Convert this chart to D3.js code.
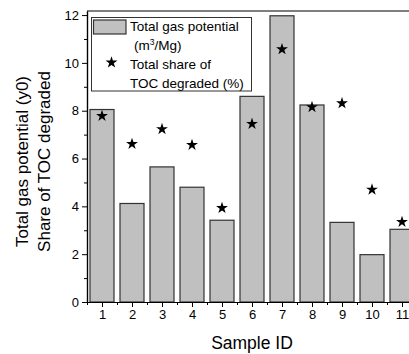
<!DOCTYPE html>
<html>
<head>
<meta charset="utf-8">
<script src="https://cdn.jsdelivr.net/npm/d3@7"></script>
<style>
  body { margin: 0; background: #fff; }
  svg { display: block; font-family: "Liberation Sans", Arial, sans-serif; }
</style>
</head>
<body>
<svg id="chart"></svg>
<script>
// sample ids on the x axis
const sampleIds = [1, 2, 3, 4, 5, 6, 7, 8, 9, 10, 11];
// total gas potential (m3/Mg), bars
const gasPotential = [8.05, 4.12, 5.65, 4.8, 3.42, 8.6, 11.97, 8.24, 3.33, 1.98, 3.04];
// total share of TOC degraded (%), stars
const tocDegraded = [7.78, 6.61, 7.23, 6.57, 3.93, 7.45, 10.57, 8.15, 8.31, 4.7, 3.35];
const yMajorTicks = [0, 2, 4, 6, 8, 10, 12];
const yMinorTicks = [1, 3, 5, 7, 9, 11];
const xMinorTicks = [0.5, 1.5, 2.5, 3.5, 4.5, 5.5, 6.5, 7.5, 8.5, 9.5, 10.5, 11.5];

const W = 409, H = 354;
const mLeft = 87, mRight = 417, mTop = 11, mBottom = 302;

const svg = d3.select("#chart")
    .attr("width", W)
    .attr("height", H);

const x = d3.scaleLinear()
    .domain([0.5, 11.5])
    .range([mLeft, mRight]);

const y = d3.scaleLinear()
    .domain([0, 12.17])
    .range([mBottom, mTop]);

const barW = (x(1) - x(0)) * 0.8;

// bars
svg.selectAll("rect.bar")
    .data(sampleIds)
    .enter()
    .append("rect")
    .attr("class", "bar")
    .attr("x", (d) => x(d) - barW / 2)
    .attr("y", (d, i) => y(gasPotential[i]))
    .attr("width", barW)
    .attr("height", (d, i) => y(0) - y(gasPotential[i]))
    .attr("fill", "#c0c0c0")
    .attr("stroke", "#333")
    .attr("stroke-width", 1.2);

// stars
const star = d3.symbol().type(d3.symbolStar).size(44);
svg.selectAll("path.star")
    .data(sampleIds)
    .enter()
    .append("path")
    .attr("class", "star")
    .attr("d", star)
    .attr("transform", (d, i) => `translate(${x(d)}, ${y(tocDegraded[i])})`)
    .attr("fill", "#000");

// frame top line
svg.append("line")
    .attr("x1", mLeft).attr("x2", mRight)
    .attr("y1", mTop).attr("y2", mTop)
    .attr("stroke", "#000").attr("stroke-width", 1.2);

// y axis
svg.append("g")
    .attr("transform", `translate(${mLeft}, 0)`)
    .call(d3.axisLeft(y).tickValues(yMajorTicks).tickSize(5).tickPadding(3).tickSizeOuter(0));
svg.append("g")
    .attr("transform", `translate(${mLeft}, 0)`)
    .call(d3.axisLeft(y).tickValues(yMinorTicks).tickSize(3).tickFormat("").tickSizeOuter(0));

// x axis
svg.append("g")
    .attr("transform", `translate(0, ${mBottom})`)
    .call(d3.axisBottom(x).tickValues(sampleIds).tickSize(5).tickPadding(3).tickSizeOuter(0));
svg.append("g")
    .attr("transform", `translate(0, ${mBottom})`)
    .call(d3.axisBottom(x).tickValues(xMinorTicks).tickSize(3).tickFormat("").tickSizeOuter(0));

svg.selectAll(".domain").attr("stroke", "#000").attr("stroke-width", 1.2);
svg.selectAll(".tick line").attr("stroke", "#000");
svg.selectAll(".tick text")
    .attr("font-size", "13px")
    .attr("font-family", "Liberation Sans, Arial, sans-serif")
    .attr("fill", "#000");

// axis titles
svg.append("text")
    .attr("transform", `translate(28, 161.5) rotate(-90)`)
    .attr("text-anchor", "middle")
    .attr("font-size", "17px")
    .text("Total gas potential (y0)");
svg.append("text")
    .attr("transform", `translate(49.5, 161.5) rotate(-90)`)
    .attr("text-anchor", "middle")
    .attr("font-size", "17px")
    .text("Share of TOC degraded");
svg.append("text")
    .attr("x", (mLeft + mRight) / 2)
    .attr("y", 349)
    .attr("text-anchor", "middle")
    .attr("font-size", "17.5px")
    .text("Sample ID");

// legend
const lg = svg.append("g");
lg.append("rect")
    .attr("x", 91.5).attr("y", 17.5)
    .attr("width", 160).attr("height", 73.5)
    .attr("fill", "#fff")
    .attr("stroke", "#333")
    .attr("stroke-width", 1);
lg.append("rect")
    .attr("x", 93.5).attr("y", 20)
    .attr("width", 32.5).attr("height", 14)
    .attr("fill", "#c0c0c0")
    .attr("stroke", "#333")
    .attr("stroke-width", 1.2);
lg.append("path")
    .attr("d", star)
    .attr("transform", "translate(111.5, 62.5)")
    .attr("fill", "#000");

const legendLines = [
    { x: 130, y: 31, t: "Total gas potential" },
    { x: 134, y: 50, t: "(m", sup: "3", rest: "/Mg)" },
    { x: 130, y: 69, t: "Total share of" },
    { x: 130, y: 87.5, t: "TOC degraded (%)" }
];
legendLines.forEach((l) => {
    const t = lg.append("text")
        .attr("x", l.x).attr("y", l.y)
        .attr("font-size", "13.5px");
    t.append("tspan").text(l.t);
    if (l.sup) {
        t.append("tspan").attr("font-size", "8.5px").attr("dy", -5).text(l.sup);
        t.append("tspan").attr("dy", 5).text(l.rest);
    }
});
</script>
</body>
</html>
